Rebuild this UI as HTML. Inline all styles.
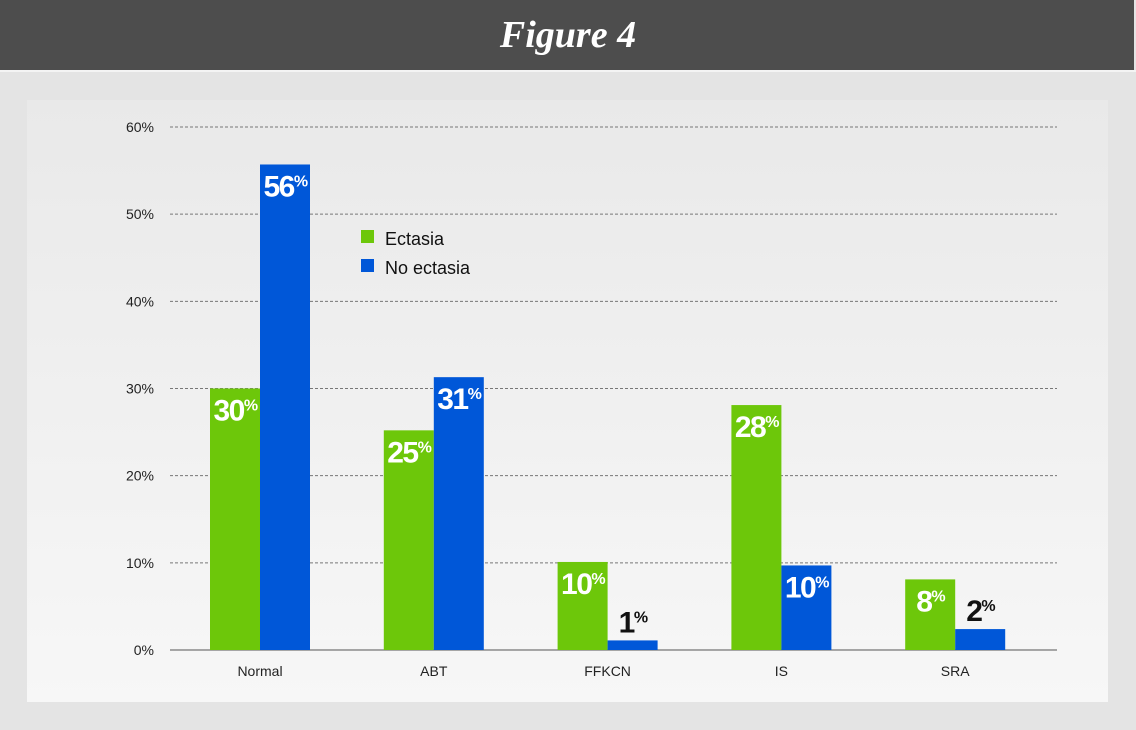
<!DOCTYPE html>
<html><head><meta charset="utf-8"><style>
html,body{margin:0;padding:0;width:1136px;height:730px;overflow:hidden;background:#e4e4e4;font-family:"Liberation Sans",sans-serif;}
</style></head><body>
<svg width="1136" height="730" xmlns="http://www.w3.org/2000/svg">
<defs><linearGradient id="pg" x1="0" y1="0" x2="0" y2="1"><stop offset="0" stop-color="#e9e9e9"/><stop offset="1" stop-color="#f7f7f7"/></linearGradient></defs>
<rect x="0" y="0" width="1136" height="730" fill="#e4e4e4"/>
<rect x="0" y="0" width="1134" height="70" fill="#4d4d4d"/>
<rect x="0" y="70" width="1136" height="2" fill="#f4f4f4"/>
<text x="568" y="47" text-anchor="middle" fill="#fff" font-family="Liberation Serif,serif" font-style="italic" font-weight="bold" font-size="38">Figure 4</text>
<rect x="27" y="100" width="1081" height="602" fill="url(#pg)"/>
<g id="grid"></g><g id="bars"></g>
<g>
<rect x="361" y="230" width="13" height="13" fill="#6dc70a"/>
<text x="385" y="245" font-size="18" fill="#111">Ectasia</text>
<rect x="361" y="259" width="13" height="13" fill="#0057d8"/>
<text x="385" y="274" font-size="18" fill="#111">No ectasia</text>
</g>
</svg>
<script>
const categories=["Normal","ABT","FFKCN","IS","SRA"];
const ectasia=[30,25.2,10.1,28.1,8.1];
const noEctasia=[55.7,31.3,1.1,9.7,2.4];
const ectasiaLabels=["30","25","10","28","8"];
const noEctasiaLabels=["56","31","1","10","2"];
const yTicks=[0,10,20,30,40,50,60];
const NS="http://www.w3.org/2000/svg";
const y0=650,pxPer=(650-127)/60;
const y=v=>y0-v*pxPer;
const xc=i=>260+i*173.8;
function mk(t,a,p){const e=document.createElementNS(NS,t);for(const k in a)e.setAttribute(k,a[k]);p.appendChild(e);return e;}
const grid=document.getElementById('grid'),bars=document.getElementById('bars');
yTicks.forEach(t=>{
 const l=mk('line',{x1:170,x2:1057,y1:y(t),y2:y(t),stroke:t===0?'#555':'#777','stroke-width':1,'stroke-dasharray':t===0?'':'3,2'},grid);
 
 
 const tx=mk('text',{x:154,y:y(t)+5,'text-anchor':'end','font-size':14,fill:'#222'},grid);
 tx.textContent=t+'%';
 
 
});
function label(x,v,txt,fill,above){
 const big=v>=5&&!above?0:1;
 const ty=v>=5?y(v)+32:y(v)-8;
 const t=mk('text',{x:x,y:ty,'text-anchor':'middle',fill:v>=5?'#fff':'#111','font-family':'Liberation Sans Narrow,Liberation Sans,sans-serif','font-weight':'bold','font-size':30,'letter-spacing':'-1.5'},bars);
 t.textContent=txt;
 const s=mk('tspan',{'font-size':16,dy:-10},t);s.textContent='%';
 
 
}
categories.forEach((c,i)=>{
 const cx=xc(i);
 const g=mk('rect',{x:cx-50,y:y(ectasia[i]),width:50,height:ectasia[i]*pxPer,fill:'#6dc70a'},bars);
 
 
 const b=mk('rect',{x:cx,y:y(noEctasia[i]),width:50,height:noEctasia[i]*pxPer,fill:'#0057d8'},bars);
 
 
 label(cx-25,ectasia[i],ectasiaLabels[i]);
 label(cx+25,noEctasia[i],noEctasiaLabels[i]);
 const t=mk('text',{x:cx,y:676,'text-anchor':'middle','font-size':14,fill:'#222'},bars);
 t.textContent=c;
 
 
});
</script>
</body></html>
